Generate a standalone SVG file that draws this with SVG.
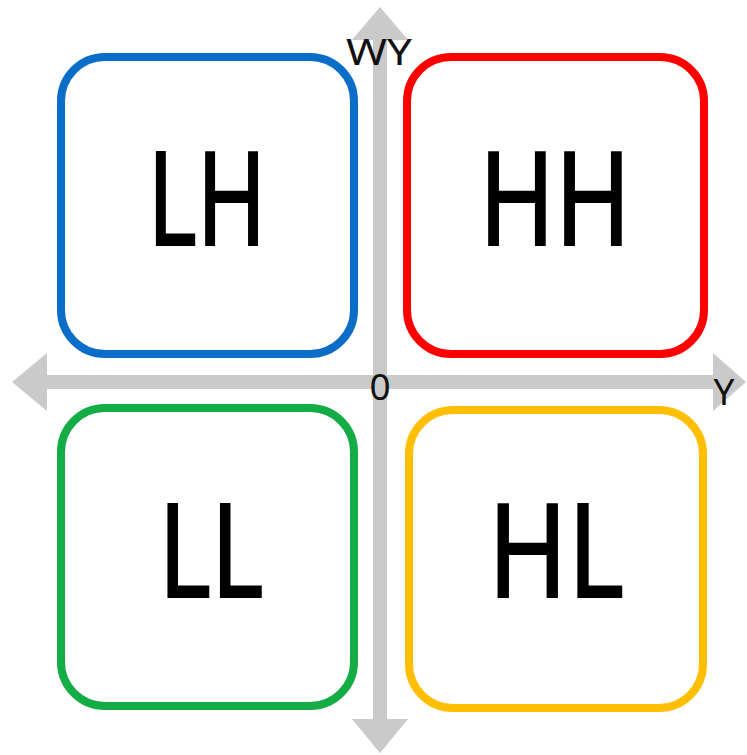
<svg xmlns="http://www.w3.org/2000/svg" width="747" height="755" viewBox="0 0 747 755">
<style>
.box{fill:#fff;stroke-width:8}
.big{font-family:"Noto Sans","Open Sans",sans-serif;font-size:129px;fill:#000;stroke:#000;stroke-width:2;text-anchor:middle}
.ax{font-family:"Noto Sans","Open Sans",sans-serif;font-size:37px;fill:#111;text-anchor:middle}
.arrow{fill:#cacaca}
</style>
<rect width="747" height="755" fill="#fff"/>
<g id="connectors">
<polygon class="arrow" points="380,7 408,40 387,40 387,719 408,719 380,753 352,719 373,719 373,40 352,40"/>
<polygon class="arrow" points="12,382 47,353 47,375 713,375 713,353 746,382 713,411 713,389 47,389 47,411"/>
<text class="ax" x="379" y="65" textLength="66" lengthAdjust="spacingAndGlyphs">WY</text>
<text class="ax" x="380" y="400">0</text>
<text class="ax" x="724" y="405">Y</text>
</g>
<g id="LH">
<rect class="box" x="61" y="57" width="293" height="297" rx="44" stroke="#0a6dc8"/>
<text class="big" x="207" y="245" textLength="119" lengthAdjust="spacingAndGlyphs">LH</text>
</g>
<g id="HH">
<rect class="box" x="407" y="57" width="297" height="297" rx="44" stroke="#ff0000"/>
<text class="big" x="555" y="245" textLength="152" lengthAdjust="spacingAndGlyphs">HH</text>
</g>
<g id="LL">
<rect class="box" x="61" y="408" width="293" height="298" rx="44" stroke="#13ac45"/>
<text class="big" x="211" y="597" textLength="105" lengthAdjust="spacingAndGlyphs">LL</text>
</g>
<g id="HL">
<rect class="box" x="409" y="410" width="294" height="298" rx="44" stroke="#ffbf00"/>
<text class="big" x="556" y="597" textLength="136" lengthAdjust="spacingAndGlyphs">HL</text>
</g>
</svg>
